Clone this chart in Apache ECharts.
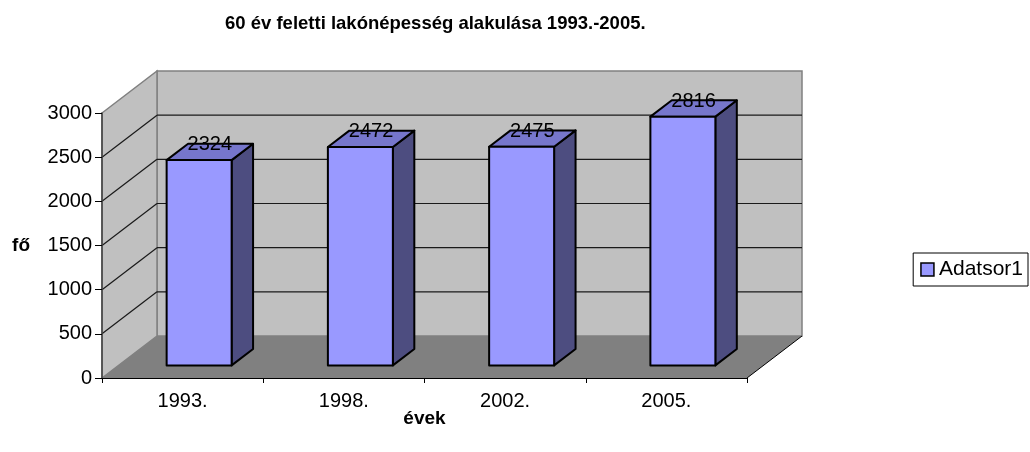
<!DOCTYPE html>
<html>
<head>
<meta charset="utf-8">
<script src="https://cdn.jsdelivr.net/npm/echarts@6/dist/echarts.min.js"></script>
<style>
html,body{margin:0;padding:0;background:#fff;}
#chart{width:1030px;height:452px;}
</style>
</head>
<body>
<div id="chart"></div>
<script>
// ---- data ----
const titleText = '60 év feletti lakónépesség alakulása 1993.-2005.';
const categories = ['1993.', '1998.', '2002.', '2005.'];
const values = [2324, 2472, 2475, 2816];
const yTicks = [0, 500, 1000, 1500, 2000, 2500, 3000];
const seriesName = 'Adatsor1';
const xName = 'évek';
const yName = 'fő';

// ---- style / 3D projection constants ----
const FONT = '"Liberation Sans", Arial, sans-serif';
const DX = 55, DY = -42;          // depth offset of the back wall
const FRONT = 0.30, SIDE = 0.39;  // bar front-face depth, bar depth (fractions of DX/DY)
const BAR_W = 0.403;              // bar width as fraction of band
const yMin = yTicks[0], yMax = yTicks[yTicks.length - 1], yStep = yTicks[1] - yTicks[0];

const chart = echarts.init(document.getElementById('chart'), null, {renderer: 'canvas'});

function renderFrame(params, api) {
  const cs = params.coordSys;
  const x0 = cs.x, x1 = cs.x + cs.width;
  const yt = api.coord([0, yMax])[1];
  const yb = api.coord([0, yMin])[1];
  const wall = {fill: '#C0C0C0', stroke: '#808080', lineWidth: 1.5};
  return {
    type: 'group',
    children: [
      {type: 'polygon', shape: {points: [[x0 + DX, yt + DY], [x1 + DX, yt + DY], [x1 + DX, yb + DY], [x0 + DX, yb + DY]]}, style: wall},
      {type: 'polygon', shape: {points: [[x0, yt], [x0 + DX, yt + DY], [x0 + DX, yb + DY], [x0, yb]]}, style: wall},
      {type: 'polygon', shape: {points: [[x0, yb], [x1, yb], [x1 + DX, yb + DY], [x0 + DX, yb + DY]]}, style: {fill: '#808080'}},
      {type: 'line', shape: {x1: x1, y1: yb, x2: x1 + DX, y2: yb + DY}, style: {stroke: '#000', lineWidth: 1}}
    ]
  };
}

function renderGridLine(params, api) {
  const cs = params.coordSys;
  const x0 = cs.x, x1 = cs.x + cs.width;
  const y = api.coord([0, api.value(1)])[1];
  const st = {stroke: '#1a1a1a', lineWidth: 1.2};
  return {
    type: 'group',
    children: [
      {type: 'line', shape: {x1: x0, y1: y, x2: x0 + DX, y2: y + DY}, style: st},
      {type: 'line', shape: {x1: x0 + DX, y1: y + DY, x2: x1 + DX, y2: y + DY}, style: st}
    ]
  };
}

function renderBar(params, api) {
  const idx = api.value(0), v = api.value(1);
  const base = api.coord([idx, yMin]);
  const top = api.coord([idx, v]);
  const band = api.size([1, 0])[0];
  const bw = band * BAR_W;
  const fx = base[0] + FRONT * DX - bw / 2;
  const fy0 = base[1] + FRONT * DY;
  const fy1 = top[1] + FRONT * DY;
  const sdx = SIDE * DX, sdy = SIDE * DY;
  const edge = {stroke: '#000', lineWidth: 2, lineJoin: 'round'};
  return {
    type: 'group',
    children: [
      {type: 'polygon', shape: {points: [[fx + bw, fy1], [fx + bw + sdx, fy1 + sdy], [fx + bw + sdx, fy0 + sdy], [fx + bw, fy0]]},
        style: Object.assign({fill: '#4D4D80'}, edge)},
      {type: 'polygon', shape: {points: [[fx, fy1], [fx + bw, fy1], [fx + bw + sdx, fy1 + sdy], [fx + sdx, fy1 + sdy]]},
        style: Object.assign({fill: '#7676CC'}, edge)},
      {type: 'rect', shape: {x: fx, y: fy1, width: bw, height: fy0 - fy1},
        style: Object.assign({fill: '#9999FF'}, edge)},
      {type: 'text', x: fx + bw / 2 + sdx / 2, y: fy1 + sdy / 2 - 7,
        style: {text: String(v), fill: '#000', font: '20px ' + FONT, align: 'center', verticalAlign: 'middle'}}
    ]
  };
}

const option = {
  backgroundColor: '#ffffff',
  animation: false,
  title: {
    text: titleText,
    left: 225, top: 14, padding: 0,
    textStyle: {fontFamily: FONT, fontSize: 18.5, fontWeight: 'bold', color: '#000'}
  },
  legend: {
    data: [{name: seriesName, icon: 'rect'}],
    right: 2, top: 253,
    orient: 'vertical',
    borderColor: '#000', borderWidth: 1,
    padding: [6, 5, 6, 7],
    itemWidth: 13, itemHeight: 13, itemGap: 0,
    itemStyle: {borderColor: '#000', borderWidth: 1.5},
    textStyle: {fontFamily: FONT, fontSize: 21, color: '#000'}
  },
  grid: {left: 102, top: 113, width: 645, height: 265, containLabel: false},
  xAxis: {
    type: 'category',
    data: categories,
    boundaryGap: true,
    z: 10,
    name: xName,
    nameLocation: 'middle',
    nameMoveOverlap: false,
    nameGap: 31,
    nameTextStyle: {fontFamily: FONT, fontSize: 19, fontWeight: 'bold', color: '#000'},
    axisLine: {show: true, lineStyle: {color: '#000', width: 1}},
    axisTick: {show: true, length: 5, alignWithLabel: false, lineStyle: {color: '#000'}},
    axisLabel: {margin: 13, fontFamily: FONT, fontSize: 20, color: '#000'},
    splitLine: {show: false}
  },
  yAxis: {
    type: 'value',
    min: yMin, max: yMax, interval: yStep,
    z: 10,
    name: yName,
    nameLocation: 'middle',
    nameRotate: 0,
    nameGap: 72,
    nameTextStyle: {fontFamily: FONT, fontSize: 19, fontWeight: 'bold', color: '#000'},
    axisLine: {show: true, lineStyle: {color: '#404040', width: 1.5}},
    axisTick: {show: true, length: 7, lineStyle: {color: '#000'}},
    axisLabel: {margin: 10, fontFamily: FONT, fontSize: 20, color: '#000', formatter: v => String(v)},
    splitLine: {show: false}
  },
  series: [
    {
      type: 'custom', name: 'frame', silent: true, z: 1,
      renderItem: renderFrame,
      encode: {x: 0, y: 1},
      data: [[0, yMin]]
    },
    {
      type: 'custom', name: 'gridlines', silent: true, z: 1.5,
      renderItem: renderGridLine,
      encode: {x: 0, y: 1},
      data: yTicks.filter(t => t > yMin && t < yMax).map(t => [0, t])
    },
    {
      type: 'custom', name: seriesName, z: 3,
      itemStyle: {color: '#9999FF', borderColor: '#000', borderWidth: 1},
      renderItem: renderBar,
      encode: {x: 0, y: 1},
      data: values.map((v, i) => [i, v])
    }
  ]
};
chart.setOption(option);
</script>
</body>
</html>
